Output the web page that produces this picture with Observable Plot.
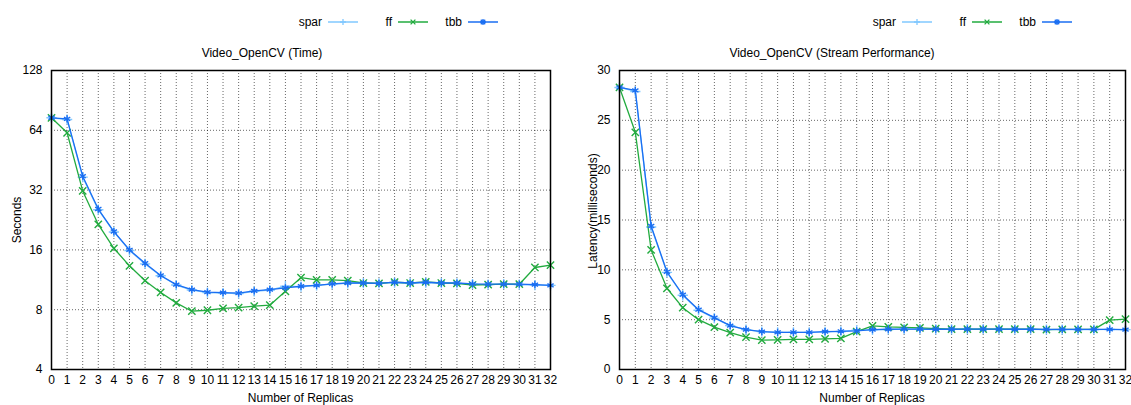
<!DOCTYPE html>
<html>
<head>
<meta charset="utf-8">
<script src="https://cdn.jsdelivr.net/npm/d3@7"></script>
<script src="https://cdn.jsdelivr.net/npm/@observablehq/plot@0.6"></script>
<style>
  html, body { margin: 0; padding: 0; background: #fff; }
  #root { position: relative; width: 1131px; height: 405px; overflow: hidden;
          font-family: "Liberation Sans", Arial, Helvetica, sans-serif; font-size: 12px; color: #000; }
  .abs { position: absolute; white-space: nowrap; }
  .lgtext { position: absolute; text-align: right; width: 60px; line-height: 12px; }
</style>
</head>
<body>
<div id="root"></div>
<script>
// ---------- data ----------
const seriesNames = ["spar", "ff", "tbb"];
const seriesColors = ["#80c8ff", "#22ab3f", "#1a6ef2"];
const seriesSymbols = ["plus", "times", "asterisk"];

const replicas = [0,1,2,3,4,5,6,7,8,9,10,11,12,13,14,15,16,17,18,19,20,21,22,23,24,25,26,27,28,29,30,31,32];

// Left panel: Video_OpenCV (Time), seconds
const timeSpar = [74, 72.5, 37.2, 25.5, 19.7, 15.9, 13.6, 11.85, 10.65, 10.05, 9.75, 9.7, 9.65, 9.9, 10.05, 10.5, 10.45, 10.6, 10.75, 10.85, 10.9, 10.85, 10.95, 10.9, 10.95, 10.9, 10.85, 10.75, 10.7, 10.75, 10.7, 10.65, 10.6];
const timeFF   = [74, 62.2, 31.7, 21.5, 16.3, 13.3, 11.2, 9.77, 8.66, 7.86, 7.95, 8.12, 8.2, 8.33, 8.43, 9.9, 11.6, 11.3, 11.3, 11.2, 10.9, 10.85, 11.0, 10.9, 11.05, 10.9, 10.85, 10.65, 10.7, 10.75, 10.75, 13.05, 13.4];
const timeTBB  = [74, 73, 37.6, 25.7, 19.8, 16.0, 13.7, 11.9, 10.7, 10.1, 9.8, 9.75, 9.7, 9.95, 10.1, 10.3, 10.5, 10.6, 10.8, 10.9, 10.9, 10.85, 11.0, 10.9, 11.0, 10.9, 10.9, 10.8, 10.75, 10.75, 10.75, 10.7, 10.6];

// Right panel: Video_OpenCV (Stream Performance), latency ms
const latSpar = [28.3, 27.9, 14.3, 9.75, 7.45, 5.95, 5.15, 4.4, 4.0, 3.8, 3.72, 3.72, 3.72, 3.78, 3.82, 3.95, 3.98, 4.02, 4.04, 4.04, 4.03, 4.03, 4.04, 4.04, 4.04, 4.03, 4.03, 4.0, 4.0, 4.0, 4.01, 4.02, 4.0];
const latFF   = [28.3, 23.8, 12.0, 8.15, 6.2, 5.0, 4.25, 3.7, 3.25, 2.95, 2.98, 3.03, 3.03, 3.07, 3.13, 3.8, 4.38, 4.28, 4.22, 4.18, 4.1, 4.05, 4.05, 4.05, 4.06, 4.05, 4.05, 4.0, 4.02, 4.02, 4.02, 4.95, 5.05];
const latTBB  = [28.3, 28.0, 14.4, 9.8, 7.5, 6.0, 5.2, 4.4, 4.0, 3.8, 3.73, 3.73, 3.73, 3.8, 3.83, 3.88, 4.0, 4.04, 4.05, 4.05, 4.04, 4.04, 4.05, 4.05, 4.05, 4.04, 4.04, 4.02, 4.02, 4.02, 4.02, 4.03, 4.0];

const timeTicks = [4, 8, 16, 32, 64, 128];
const latTicks = [0, 5, 10, 15, 20, 25, 30];

const panels = [
  { left: 0, width: 560, marginLeft: 51, marginRight: 10,
    title: "Video_OpenCV (Time)", ylabel: "Seconds",
    series: [timeSpar, timeFF, timeTBB], yType: "log", yDomain: [4, 128], yTicks: timeTicks,
    legendEnds: [358, 428, 498], titleX: 262, ylabelX: 17, ylabelY: 220 },
  { left: 560, width: 571, marginLeft: 59, marginRight: 6,
    title: "Video_OpenCV (Stream Performance)", ylabel: "Latency(milliseconds)",
    series: [latSpar, latFF, latTBB], yType: "linear", yDomain: [0, 30], yTicks: latTicks,
    legendEnds: [932, 1002, 1072], titleX: 832, ylabelX: 593, ylabelY: 211 }
];

const root = document.getElementById("root");
const svgTop = 60, svgHeight = 345;

function addDiv(html, css, cls) {
  const d = document.createElement("div");
  d.className = cls || "abs";
  d.innerHTML = html;
  Object.assign(d.style, css);
  root.appendChild(d);
  return d;
}

function symbolPath(sym, cx, cy, s) {
  if (sym === "plus") return `M${cx-s},${cy}H${cx+s}M${cx},${cy-s}V${cy+s}`;
  if (sym === "times") return `M${cx-s*0.8},${cy-s*0.8}L${cx+s*0.8},${cy+s*0.8}M${cx-s*0.8},${cy+s*0.8}L${cx+s*0.8},${cy-s*0.8}`;
  return `M${cx-s},${cy}H${cx+s}M${cx},${cy-s}V${cy+s}M${cx-s*0.75},${cy-s*0.75}L${cx+s*0.75},${cy+s*0.75}M${cx-s*0.75},${cy+s*0.75}L${cx+s*0.75},${cy-s*0.75}`;
}

for (const p of panels) {
  const rows = [];
  p.series.forEach((vals, si) => {
    vals.forEach((v, i) => rows.push({ x: replicas[i], y: v, s: seriesNames[si] }));
  });

  const marks = [
    Plot.gridX(replicas, { stroke: "#000", strokeOpacity: 0.75, strokeDasharray: "1,2", strokeWidth: 0.8 }),
    Plot.gridY(p.yTicks, { stroke: "#000", strokeOpacity: 0.75, strokeDasharray: "1,2", strokeWidth: 0.8 }),
    Plot.axisX(replicas, { tickSize: 0, tickPadding: 6, label: null, fontSize: 12, tickFormat: d => String(d) }),
    Plot.axisY(p.yTicks, { tickSize: 0, tickPadding: 9, label: null, fontSize: 12, tickFormat: d => String(d) })
  ];
  seriesNames.forEach((name, si) => {
    const data = rows.filter(r => r.s === name);
    marks.push(Plot.line(data, { x: "x", y: "y", stroke: seriesColors[si], strokeWidth: 1.3 }));
    marks.push(Plot.dot(data, { x: "x", y: "y", stroke: seriesColors[si], symbol: seriesSymbols[si], r: 3.4, strokeWidth: 1.4 }));
  });
  marks.push(Plot.frame({ stroke: "#000", strokeWidth: 1.5 }));

  const chart = Plot.plot({
    width: p.width, height: svgHeight,
    marginLeft: p.marginLeft, marginRight: p.marginRight, marginTop: 10, marginBottom: 36,
    x: { type: "linear", domain: [0, 32] },
    y: p.yType === "log" ? { type: "log", base: 2, domain: p.yDomain } : { type: "linear", domain: p.yDomain },
    style: { fontFamily: "'Liberation Sans', Arial, Helvetica, sans-serif", fontSize: "12px", color: "#000", background: "transparent", overflow: "visible" },
    marks
  });
  chart.style.position = "absolute";
  chart.style.left = p.left + "px";
  chart.style.top = svgTop + "px";
  root.appendChild(chart);

  // title
  addDiv(p.title, { left: (p.titleX - 200) + "px", width: "400px", textAlign: "center", top: "46px", lineHeight: "14px" });
  // x label
  const cx = p.left + p.marginLeft + (p.width - p.marginLeft - p.marginRight) / 2;
  addDiv("Number of Replicas", { left: (cx - 100) + "px", width: "200px", textAlign: "center", top: "391px", lineHeight: "14px" });
  // y label (rotated)
  addDiv(p.ylabel, { left: (p.ylabelX - 100) + "px", width: "200px", textAlign: "center", top: (p.ylabelY - 7) + "px",
                     lineHeight: "14px", transform: "rotate(-90deg)" });
  // legend
  seriesNames.forEach((name, si) => {
    const end = p.legendEnds[si];
    const start = end - 30;
    addDiv(name, { left: (start - 6 - 60) + "px", top: "16px" }, "lgtext");
    const svgNS = "http://www.w3.org/2000/svg";
    const s = document.createElementNS(svgNS, "svg");
    s.setAttribute("width", "30"); s.setAttribute("height", "12");
    Object.assign(s.style, { position: "absolute", left: start + "px", top: "16px" });
    const ln = document.createElementNS(svgNS, "path");
    ln.setAttribute("d", "M0,6H30");
    ln.setAttribute("stroke", seriesColors[si]); ln.setAttribute("stroke-width", "1.5");
    s.appendChild(ln);
    const mk = document.createElementNS(svgNS, "path");
    mk.setAttribute("d", symbolPath(seriesSymbols[si], 15, 6, 3));
    mk.setAttribute("stroke", seriesColors[si]); mk.setAttribute("stroke-width", "1.3"); mk.setAttribute("fill", "none");
    s.appendChild(mk);
    root.appendChild(s);
  });
}
</script>
</body>
</html>
